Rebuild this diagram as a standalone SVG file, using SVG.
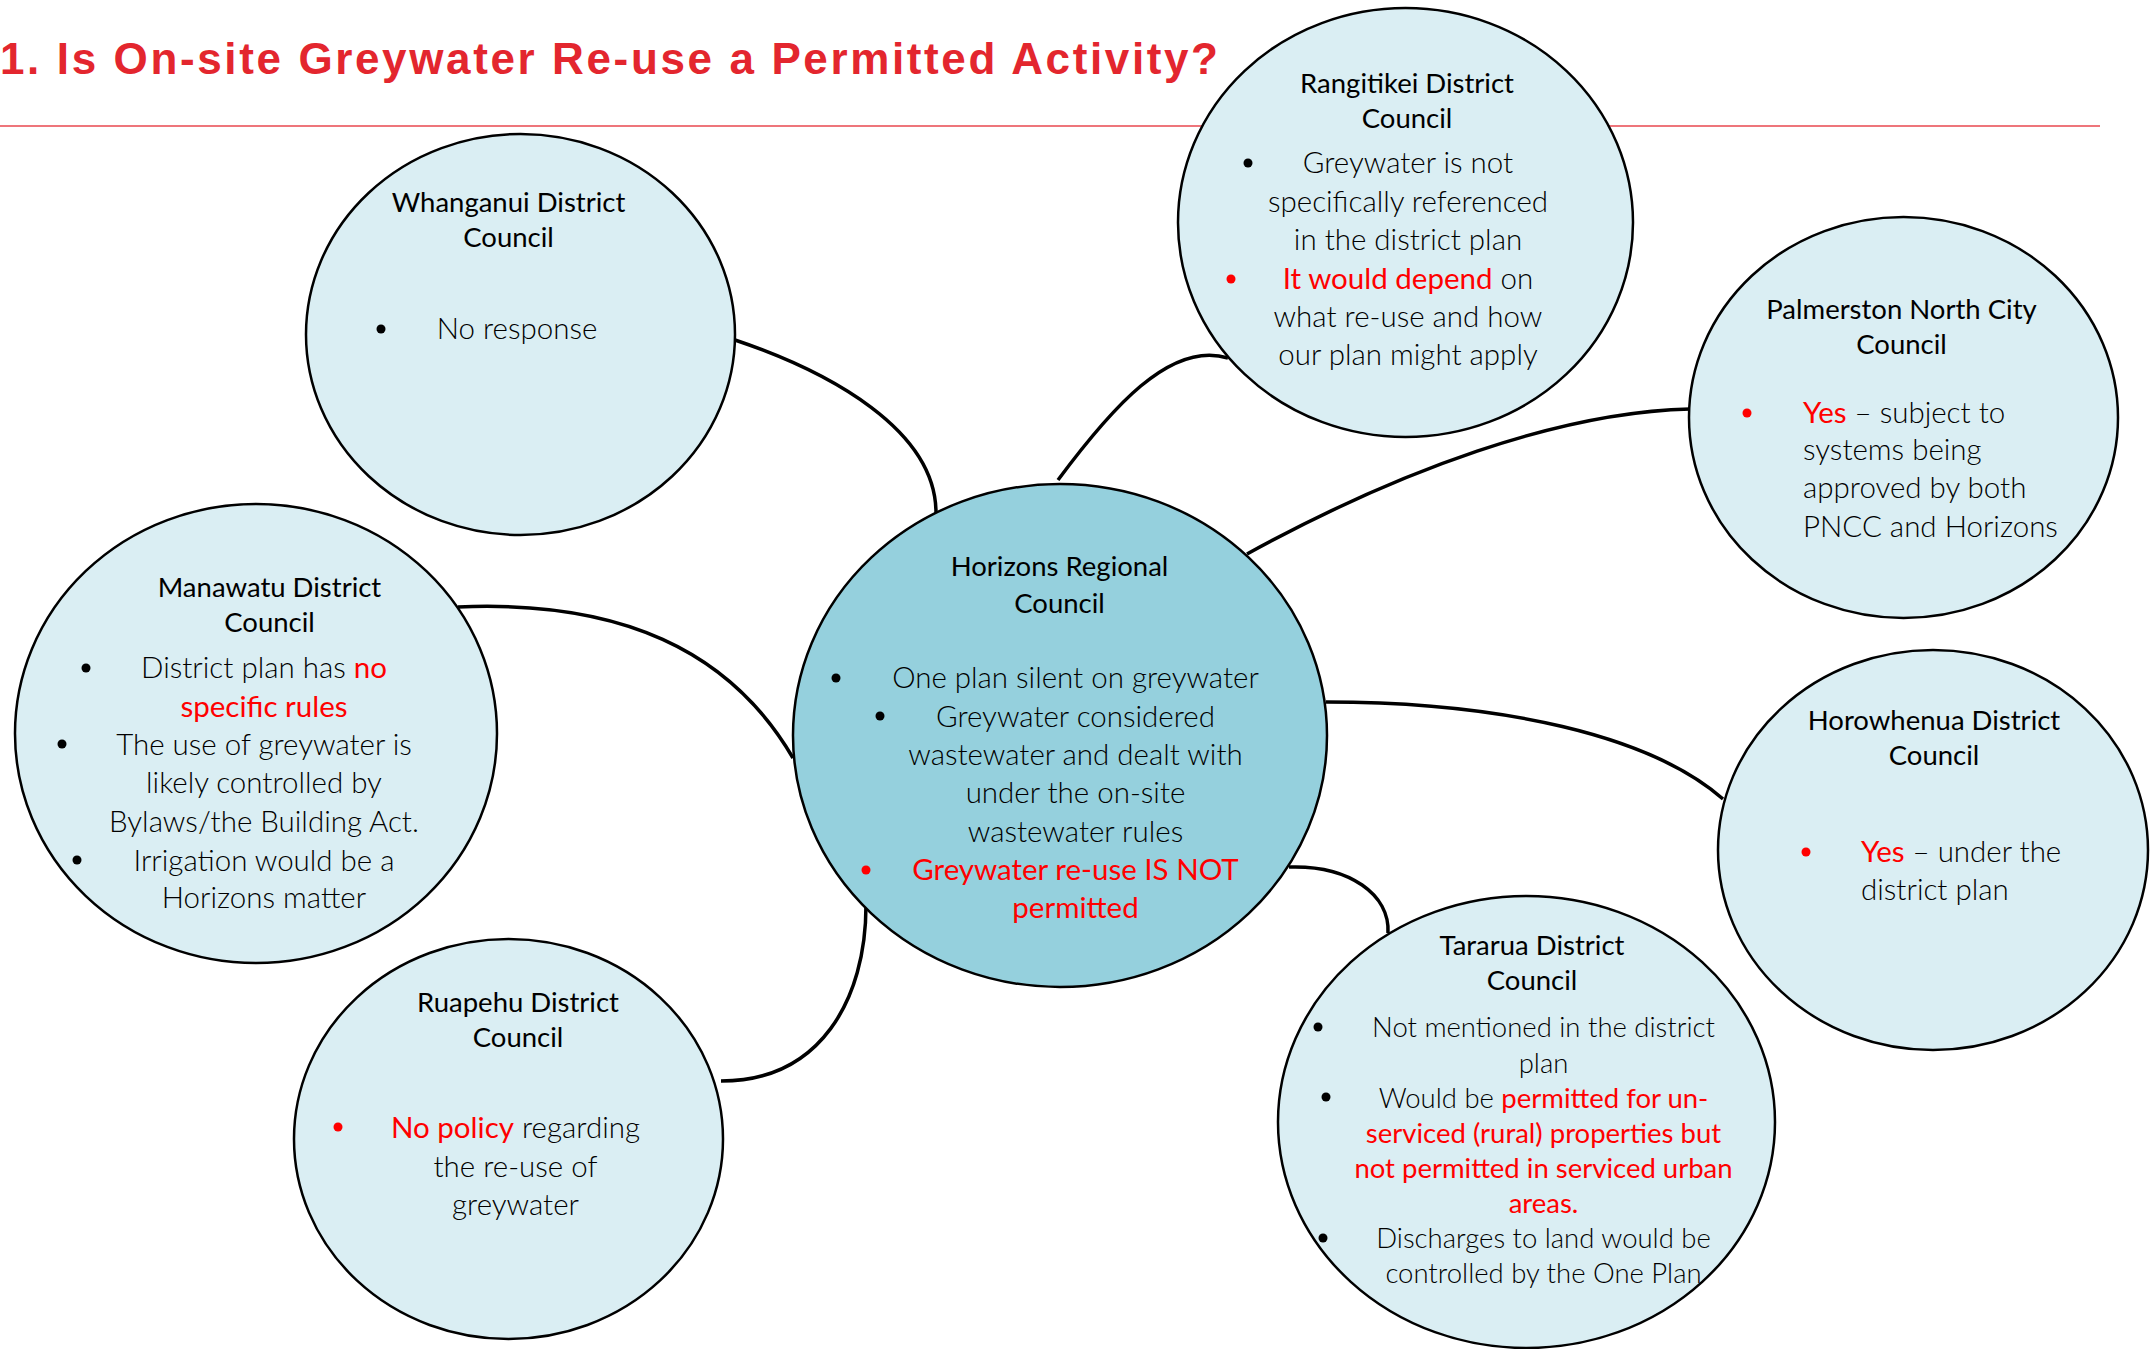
<svg xmlns="http://www.w3.org/2000/svg" width="2152" height="1349" viewBox="0 0 2152 1349">
  <style>
    .node { fill: #daeef3; stroke: #000; stroke-width: 2.5; }
    .hub { fill: #95d0dd; stroke: #000; stroke-width: 2.5; }
    .link { fill: none; stroke: #000; stroke-width: 3.5; }
    .hd { font-family: Lato, "Open Sans", sans-serif; font-size: 27.5px; font-weight: 400; fill: #000; text-anchor: middle; }
    .tx { font-family: Lato, "Open Sans", sans-serif; font-size: 29.5px; font-weight: 300; fill: #000; text-anchor: middle; }
    .sm { font-size: 27.5px; }
    .lf { text-anchor: start; }
    .r { fill: #ff0000; font-weight: 400; }
    .dot { fill: #000; }
    .rdot { fill: #ff0000; }
  </style>

  <!-- heading and rule -->
  <text x="0" y="74" textLength="1218" lengthAdjust="spacing" font-family="'Liberation Sans', Arial, sans-serif" font-size="44" font-weight="700" fill="#e3262e">1. Is On-site Greywater Re-use a Permitted Activity?</text>
  <line x1="0" y1="126" x2="2100" y2="126" stroke="#e8474f" stroke-width="1.5"/>

  <!-- connectors from the regional council to each district -->
  <g id="connectors">
    <path class="link" d="M735,340 C830,372 936,430 936,513"/>
    <path class="link" d="M1058,480 C1110,410 1170,340 1228,358"/>
    <path class="link" d="M1247,554 C1400,470 1560,412 1690,409"/>
    <path class="link" d="M1326,702 C1500,702 1650,735 1723,799"/>
    <path class="link" d="M1289,867 C1350,865 1390,895 1388,933"/>
    <path class="link" d="M866,905 C866,1000 820,1081 721,1081"/>
    <path class="link" d="M458,607 C620,600 730,650 793,758"/>
  </g>

  <g id="whanganui">
    <ellipse class="node" cx="520.5" cy="334.5" rx="214.5" ry="200.5"/>
    <text class="hd" x="508.5" y="212">Whanganui District</text>
    <text class="hd" x="508.5" y="247">Council</text>
    <circle class="dot" cx="381" cy="329" r="4.5"/>
    <text class="tx" x="517" y="339">No response</text>
  </g>

  <g id="rangitikei">
    <ellipse class="node" cx="1405.5" cy="222.5" rx="227.5" ry="214.5"/>
    <text class="hd" x="1407" y="93">Rangitikei District</text>
    <text class="hd" x="1407" y="128">Council</text>
    <circle class="dot" cx="1248" cy="163" r="4.5"/>
    <text class="tx" x="1408" y="173">Greywater is not</text>
    <text class="tx" x="1408" y="212">specifically referenced</text>
    <text class="tx" x="1408" y="250">in the district plan</text>
    <circle class="rdot" cx="1231" cy="279" r="4.5"/>
    <text class="tx" x="1408" y="289"><tspan class="r">It would depend</tspan> on</text>
    <text class="tx" x="1408" y="327">what re-use and how</text>
    <text class="tx" x="1408" y="365">our plan might apply</text>
  </g>

  <g id="palmerston-north">
    <ellipse class="node" cx="1903.5" cy="417.5" rx="214.5" ry="200.5"/>
    <text class="hd" x="1901.5" y="319">Palmerston North City</text>
    <text class="hd" x="1901.5" y="354">Council</text>
    <circle class="rdot" cx="1747" cy="413" r="4.5"/>
    <text class="tx lf" x="1803" y="423"><tspan class="r">Yes</tspan> – subject to</text>
    <text class="tx lf" x="1803" y="460">systems being</text>
    <text class="tx lf" x="1803" y="498">approved by both</text>
    <text class="tx lf" x="1803" y="537">PNCC and Horizons</text>
  </g>

  <g id="horowhenua">
    <ellipse class="node" cx="1933" cy="850" rx="215" ry="200"/>
    <text class="hd" x="1934" y="730">Horowhenua District</text>
    <text class="hd" x="1934" y="765">Council</text>
    <circle class="rdot" cx="1806" cy="852" r="4.5"/>
    <text class="tx lf" x="1861" y="862"><tspan class="r">Yes</tspan> – under the</text>
    <text class="tx lf" x="1861" y="900">district plan</text>
  </g>

  <g id="tararua">
    <ellipse class="node" cx="1526.5" cy="1122" rx="248.5" ry="226"/>
    <text class="hd" x="1532" y="955">Tararua District</text>
    <text class="hd" x="1532" y="990">Council</text>
    <circle class="dot" cx="1318" cy="1027" r="4.5"/>
    <text class="tx sm" x="1543.5" y="1037">Not mentioned in the district</text>
    <text class="tx sm" x="1543.5" y="1073">plan</text>
    <circle class="dot" cx="1326" cy="1097" r="4.5"/>
    <text class="tx sm" x="1543.5" y="1108">Would be <tspan class="r">permitted for un-</tspan></text>
    <text class="tx sm r" x="1543.5" y="1143">serviced (rural) properties but</text>
    <text class="tx sm r" x="1543.5" y="1178">not permitted in serviced urban</text>
    <text class="tx sm r" x="1543.5" y="1213">areas.</text>
    <circle class="dot" cx="1323" cy="1238" r="4.5"/>
    <text class="tx sm" x="1543.5" y="1248">Discharges to land would be</text>
    <text class="tx sm" x="1543.5" y="1283">controlled by the One Plan</text>
  </g>

  <g id="ruapehu">
    <ellipse class="node" cx="508.5" cy="1139" rx="214.5" ry="200"/>
    <text class="hd" x="518" y="1012">Ruapehu District</text>
    <text class="hd" x="518" y="1047">Council</text>
    <circle class="rdot" cx="338" cy="1127" r="4.5"/>
    <text class="tx" x="515.5" y="1138"><tspan class="r">No policy</tspan> regarding</text>
    <text class="tx" x="515.5" y="1177">the re-use of</text>
    <text class="tx" x="515.5" y="1215">greywater</text>
  </g>

  <g id="manawatu">
    <ellipse class="node" cx="256" cy="733.5" rx="241" ry="229.5"/>
    <text class="hd" x="269.5" y="597">Manawatu District</text>
    <text class="hd" x="269.5" y="632">Council</text>
    <circle class="dot" cx="86" cy="668" r="4.5"/>
    <text class="tx" x="264" y="678">District plan has <tspan class="r">no</tspan></text>
    <text class="tx r" x="264" y="717">specific rules</text>
    <circle class="dot" cx="62" cy="744" r="4.5"/>
    <text class="tx" x="264" y="755">The use of greywater is</text>
    <text class="tx" x="264" y="793">likely controlled by</text>
    <text class="tx" x="264" y="832">Bylaws/the Building Act.</text>
    <circle class="dot" cx="77" cy="860" r="4.5"/>
    <text class="tx" x="264" y="871">Irrigation would be a</text>
    <text class="tx" x="264" y="908">Horizons matter</text>
  </g>

  <g id="horizons">
    <ellipse class="hub" cx="1060" cy="735.5" rx="267" ry="251.5"/>
    <text class="hd" x="1059.5" y="576">Horizons Regional</text>
    <text class="hd" x="1059.5" y="613">Council</text>
    <circle class="dot" cx="836" cy="678" r="4.5"/>
    <text class="tx" x="1075.5" y="688">One plan silent on greywater</text>
    <circle class="dot" cx="880" cy="716" r="4.5"/>
    <text class="tx" x="1075.5" y="727">Greywater considered</text>
    <text class="tx" x="1075.5" y="765">wastewater and dealt with</text>
    <text class="tx" x="1075.5" y="803">under the on-site</text>
    <text class="tx" x="1075.5" y="842">wastewater rules</text>
    <circle class="rdot" cx="866" cy="870" r="4.5"/>
    <text class="tx r" x="1075.5" y="880">Greywater re-use IS NOT</text>
    <text class="tx r" x="1075.5" y="918">permitted</text>
  </g>
</svg>
